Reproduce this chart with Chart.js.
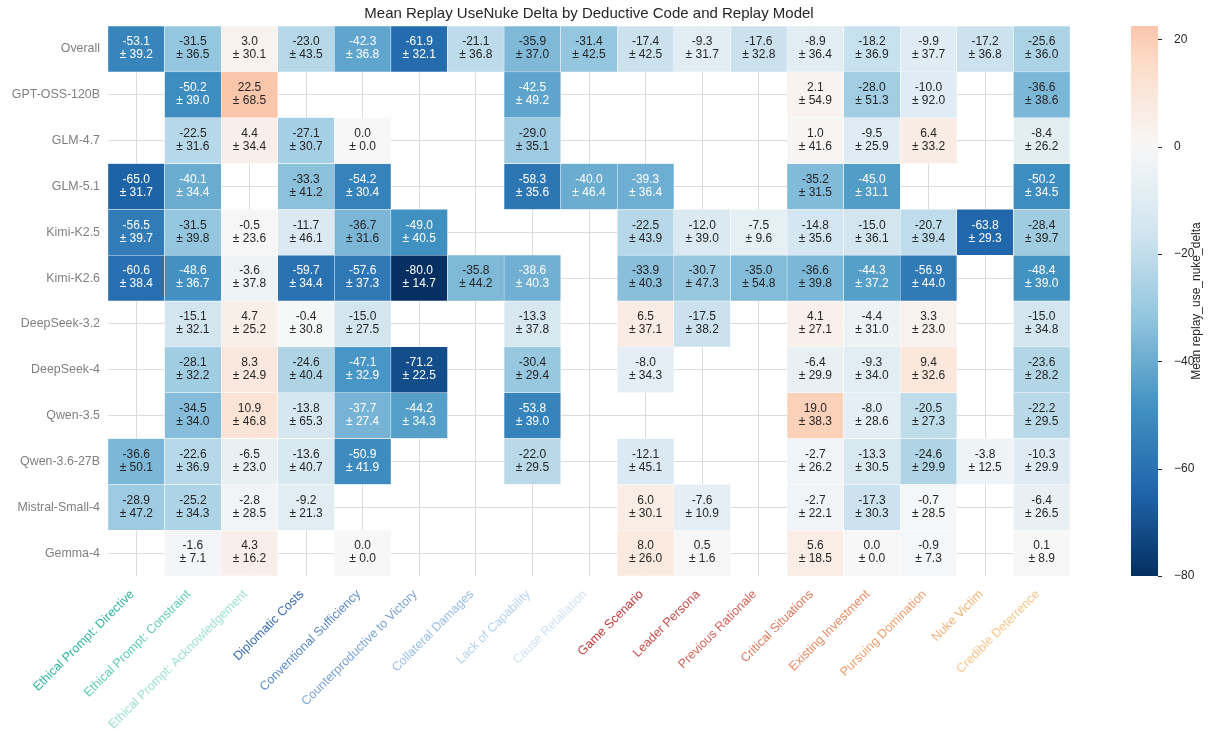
<!DOCTYPE html>
<html>
<head>
<meta charset="utf-8">
<script src="https://cdn.jsdelivr.net/npm/chart.js"></script>
<style>
  html, body { margin: 0; padding: 0; background: #ffffff; }
</style>
</head>
<body>
<canvas id="heatmap" width="1208" height="731"></canvas>
<script>
// Deductive codes (columns)
const codes = [
    'Ethical Prompt: Directive', 'Ethical Prompt: Constraint', 'Ethical Prompt: Acknowledgement',
    'Diplomatic Costs', 'Conventional Sufficiency', 'Counterproductive to Victory',
    'Collateral Damages', 'Lack of Capability', 'Cause Retaliation',
    'Game Scenario', 'Leader Persona', 'Previous Rationale',
    'Critical Situations', 'Existing Investment', 'Pursuing Domination',
    'Nuke Victim', 'Credible Deterrence'
];
const codeColors = [
    '#33b39e', '#63cbb7', '#9fe2d3',
    '#3b6cb0', '#5a8ac6', '#7aa2d6',
    '#9bbde6', '#b6d1ef', '#cfe2f5',
    '#bf3a3c', '#c84f4a', '#d1655a',
    '#db795c', '#e58b62', '#ee9f6c',
    '#f4b177', '#f8c48b'
];

// Replay models (rows)
const models = [
    'Overall', 'GPT-OSS-120B', 'GLM-4.7', 'GLM-5.1', 'Kimi-K2.5', 'Kimi-K2.6',
    'DeepSeek-3.2', 'DeepSeek-4', 'Qwen-3.5', 'Qwen-3.6-27B', 'Mistral-Small-4', 'Gemma-4'
];

// Mean replay_use_nuke_delta, one row per model (null = no cell)
const meanVals = [
    [-53.1, -31.5, 3.0, -23.0, -42.3, -61.9, -21.1, -35.9, -31.4, -17.4, -9.3, -17.6, -8.9, -18.2, -9.9, -17.2, -25.6],
    [null, -50.2, 22.5, null, null, null, null, -42.5, null, null, null, null, 2.1, -28.0, -10.0, null, -36.6],
    [null, -22.5, 4.4, -27.1, 0.0, null, null, -29.0, null, null, null, null, 1.0, -9.5, 6.4, null, -8.4],
    [-65.0, -40.1, null, -33.3, -54.2, null, null, -58.3, -40.0, -39.3, null, null, -35.2, -45.0, null, null, -50.2],
    [-56.5, -31.5, -0.5, -11.7, -36.7, -49.0, null, null, null, -22.5, -12.0, -7.5, -14.8, -15.0, -20.7, -63.8, -28.4],
    [-60.6, -48.6, -3.6, -59.7, -57.6, -80.0, -35.8, -38.6, null, -33.9, -30.7, -35.0, -36.6, -44.3, -56.9, null, -48.4],
    [null, -15.1, 4.7, -0.4, -15.0, null, null, -13.3, null, 6.5, -17.5, null, 4.1, -4.4, 3.3, null, -15.0],
    [null, -28.1, 8.3, -24.6, -47.1, -71.2, null, -30.4, null, -8.0, null, null, -6.4, -9.3, 9.4, null, -23.6],
    [null, -34.5, 10.9, -13.8, -37.7, -44.2, null, -53.8, null, null, null, null, 19.0, -8.0, -20.5, null, -22.2],
    [-36.6, -22.6, -6.5, -13.6, -50.9, null, null, -22.0, null, -12.1, null, null, -2.7, -13.3, -24.6, -3.8, -10.3],
    [-28.9, -25.2, -2.8, -9.2, null, null, null, null, null, 6.0, -7.6, null, -2.7, -17.3, -0.7, null, -6.4],
    [null, -1.6, 4.3, null, 0.0, null, null, null, null, 8.0, 0.5, null, 5.6, 0.0, -0.9, null, 0.1]
];

// Standard deviations, same layout
const sdVals = [
    [39.2, 36.5, 30.1, 43.5, 36.8, 32.1, 36.8, 37.0, 42.5, 42.5, 31.7, 32.8, 36.4, 36.9, 37.7, 36.8, 36.0],
    [null, 39.0, 68.5, null, null, null, null, 49.2, null, null, null, null, 54.9, 51.3, 92.0, null, 38.6],
    [null, 31.6, 34.4, 30.7, 0.0, null, null, 35.1, null, null, null, null, 41.6, 25.9, 33.2, null, 26.2],
    [31.7, 34.4, null, 41.2, 30.4, null, null, 35.6, 46.4, 36.4, null, null, 31.5, 31.1, null, null, 34.5],
    [39.7, 39.8, 23.6, 46.1, 31.6, 40.5, null, null, null, 43.9, 39.0, 9.6, 35.6, 36.1, 39.4, 29.3, 39.7],
    [38.4, 36.7, 37.8, 34.4, 37.3, 14.7, 44.2, 40.3, null, 40.3, 47.3, 54.8, 39.8, 37.2, 44.0, null, 39.0],
    [null, 32.1, 25.2, 30.8, 27.5, null, null, 37.8, null, 37.1, 38.2, null, 27.1, 31.0, 23.0, null, 34.8],
    [null, 32.2, 24.9, 40.4, 32.9, 22.5, null, 29.4, null, 34.3, null, null, 29.9, 34.0, 32.6, null, 28.2],
    [null, 34.0, 46.8, 65.3, 27.4, 34.3, null, 39.0, null, null, null, null, 38.3, 28.6, 27.3, null, 29.5],
    [50.1, 36.9, 23.0, 40.7, 41.9, null, null, 29.5, null, 45.1, null, null, 26.2, 30.5, 29.9, 12.5, 29.9],
    [47.2, 34.3, 28.5, 21.3, null, null, null, null, null, 30.1, 10.9, null, 22.1, 30.3, 28.5, null, 26.5],
    [null, 7.1, 16.2, null, 0.0, null, null, null, null, 26.0, 1.6, null, 18.5, 0.0, 7.3, null, 8.9]
];

// Colour bar range and ticks
const vMin = -80;
const vMax = 22.5;
const cbTicks = [20, 0, -20, -40, -60, -80];

const FONT = '"Liberation Sans", Arial, sans-serif';
Chart.defaults.font.family = FONT;

// RdBu_r, centred on 0
const rdbuR = ['#053061', '#2166ac', '#4393c3', '#92c5de', '#d1e5f0', '#f7f7f7',
               '#fddbc7', '#f4a582', '#d6604d', '#b2182b', '#67001f'];

function hexToRgb(h) {
    return [parseInt(h.slice(1, 3), 16), parseInt(h.slice(3, 5), 16), parseInt(h.slice(5, 7), 16)];
}

function cmapRgb(v) {
    const half = Math.max(vMax, -vMin);
    const t = Math.min(1, Math.max(0, (v + half) / (2 * half)));
    const pos = t * (rdbuR.length - 1);
    const i = Math.min(rdbuR.length - 2, Math.floor(pos));
    const f = pos - i;
    const a = hexToRgb(rdbuR[i]);
    const b = hexToRgb(rdbuR[i + 1]);
    return a.map((c, k) => Math.round(c + (b[k] - c) * f));
}

function cmap(v) {
    const c = cmapRgb(v);
    return `rgb(${c[0]},${c[1]},${c[2]})`;
}

function textColor(v) {
    const lin = cmapRgb(v).map(x => {
        x /= 255;
        return x <= 0.03928 ? x / 12.92 : Math.pow((x + 0.055) / 1.055, 2.4);
    });
    const lum = 0.2126 * lin[0] + 0.7152 * lin[1] + 0.0722 * lin[2];
    return lum > 0.412 ? '#262626' : '#ffffff';
}

// One floating-bar dataset per model row
const datasets = models.map((m, r) => ({
    label: m,
    data: meanVals[r].map(v => v === null ? null : [r - 0.5, r + 0.5]),
    backgroundColor: meanVals[r].map(v => v === null ? 'rgba(0,0,0,0)' : cmap(v)),
    borderColor: '#ffffff',
    borderWidth: 0.5,
    borderSkipped: false,
    grouped: false,
    barPercentage: 1,
    categoryPercentage: 1
}));

// Cell annotations: mean and ± sd
const annotPlugin = {
    id: 'annot',
    afterDatasetsDraw(chart) {
        const ctx = chart.ctx;
        ctx.save();
        ctx.font = '12px ' + FONT;
        ctx.textAlign = 'center';
        ctx.textBaseline = 'middle';
        chart.data.datasets.forEach((ds, r) => {
            const meta = chart.getDatasetMeta(r);
            meta.data.forEach((bar, j) => {
                const v = meanVals[r][j];
                if (v === null) return;
                const cy = (bar.y + bar.base) / 2;
                ctx.fillStyle = textColor(v);
                ctx.fillText(v.toFixed(1), bar.x, cy - 7);
                ctx.fillText('± ' + sdVals[r][j].toFixed(1), bar.x, cy + 6);
            });
        });
        ctx.restore();
    }
};

// Colour bar drawn against the 'cb' scale
const colorbarPlugin = {
    id: 'colorbar',
    afterDraw(chart) {
        const cb = chart.scales.cb;
        const ctx = chart.ctx;
        const x0 = cb.left + 61;
        const w = 27;
        const yTop = cb.getPixelForValue(vMax);
        const yBot = cb.getPixelForValue(vMin);
        ctx.save();
        const grad = ctx.createLinearGradient(0, yBot, 0, yTop);
        for (let k = 0; k <= 60; k++) {
            grad.addColorStop(k / 60, cmap(vMin + (vMax - vMin) * k / 60));
        }
        ctx.fillStyle = grad;
        ctx.fillRect(x0, yTop, w, yBot - yTop);

        ctx.strokeStyle = '#262626';
        ctx.lineWidth = 1;
        cbTicks.forEach(t => {
            const y = Math.round(cb.getPixelForValue(t)) + 0.5;
            ctx.beginPath();
            ctx.moveTo(x0 + w, y);
            ctx.lineTo(x0 + w + 4, y);
            ctx.stroke();
        });

        ctx.translate(cb.left + 127, (yTop + yBot) / 2);
        ctx.rotate(-Math.PI / 2);
        ctx.font = '12px ' + FONT;
        ctx.fillStyle = '#262626';
        ctx.textAlign = 'center';
        ctx.textBaseline = 'middle';
        ctx.fillText('Mean replay_use_nuke_delta', 0, 0);
        ctx.restore();
    }
};

// keep the axes from reserving extra room around the plot
function noPad(s) {
    s.paddingTop = 0;
    s.paddingBottom = 0;
    s.paddingLeft = 0;
    s.paddingRight = 0;
}

const ctx = document.getElementById('heatmap').getContext('2d');
new Chart(ctx, {
    type: 'bar',
    data: {
        labels: codes,
        datasets: datasets
    },
    options: {
        responsive: false,
        animation: false,
        layout: { padding: 0 },
        plugins: {
            legend: { display: false },
            tooltip: { enabled: false },
            title: {
                display: true,
                text: 'Mean Replay UseNuke Delta by Deductive Code and Replay Model',
                fullSize: false,
                color: '#262626',
                font: { size: 15, weight: 'normal' },
                padding: { top: 5, bottom: 3 }
            }
        },
        scales: {
            x: {
                type: 'category',
                offset: true,
                grid: { offset: false, color: '#dcdcdc', drawTicks: false },
                border: { display: false },
                ticks: {
                    autoSkip: false,
                    minRotation: 45,
                    maxRotation: 45,
                    labelOffset: -4,
                    padding: 11,
                    font: { size: 12.5 },
                    color: c => codeColors[c.index]
                },
                afterFit: s => { s.height = 155; noPad(s); }
            },
            y: {
                type: 'linear',
                min: -0.5,
                max: 11.5,
                reverse: true,
                afterBuildTicks: s => { s.ticks = models.map((_, i) => ({ value: i })); },
                grid: { color: '#dcdcdc', drawTicks: false },
                border: { display: false },
                ticks: {
                    padding: 8,
                    color: '#808080',
                    font: { size: 12.4 },
                    callback: v => models[v]
                },
                afterFit: s => { s.width = 108; noPad(s); }
            },
            cb: {
                type: 'linear',
                position: 'right',
                min: vMin,
                max: vMax,
                afterBuildTicks: s => { s.ticks = cbTicks.map(v => ({ value: v })); },
                grid: { display: false },
                border: { display: false },
                ticks: {
                    padding: 96,
                    color: '#262626',
                    font: { size: 12 },
                    callback: v => v < 0 ? '\u2212' + Math.abs(v) : String(v)
                },
                afterFit: s => { s.width = 138; noPad(s); }
            }
        }
    },
    plugins: [annotPlugin, colorbarPlugin]
});
</script>
</body>
</html>
